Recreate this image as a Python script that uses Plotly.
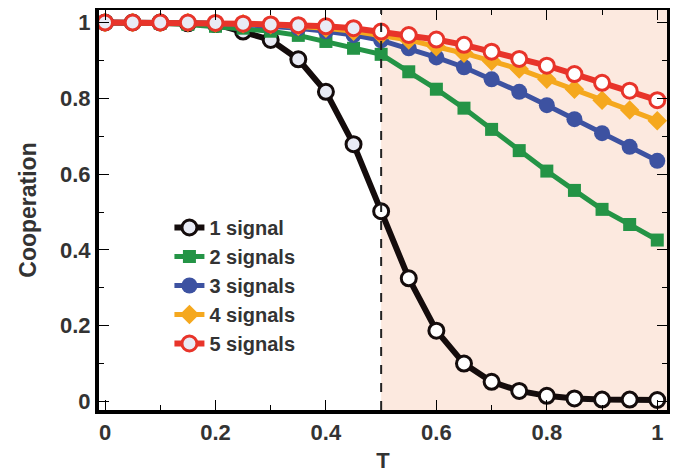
import plotly.graph_objects as go

T = [0.0, 0.05, 0.1, 0.15, 0.2, 0.25, 0.3, 0.35, 0.4, 0.45, 0.5,
     0.55, 0.6, 0.65, 0.7, 0.75, 0.8, 0.85, 0.9, 0.95, 1.0]

signal1 = [1.0, 1.0, 1.0, 0.998, 0.996, 0.976, 0.954, 0.903, 0.817, 0.679, 0.502,
           0.325, 0.187, 0.100, 0.052, 0.028, 0.015, 0.008, 0.005, 0.005, 0.004]
signal2 = [1.0, 1.0, 0.998, 0.995, 0.990, 0.985, 0.977, 0.966, 0.950, 0.932, 0.916,
           0.870, 0.824, 0.774, 0.718, 0.662, 0.608, 0.557, 0.507, 0.467, 0.426]
signal3 = [1.0, 1.0, 1.0, 0.999, 0.998, 0.995, 0.991, 0.985, 0.977, 0.967, 0.953,
           0.932, 0.908, 0.882, 0.850, 0.817, 0.782, 0.745, 0.708, 0.672, 0.635]
signal4 = [1.0, 1.0, 1.0, 1.0, 0.999, 0.997, 0.994, 0.990, 0.985, 0.977, 0.967,
           0.954, 0.936, 0.919, 0.898, 0.877, 0.850, 0.824, 0.795, 0.769, 0.741]
signal5 = [1.0, 1.0, 1.0, 1.0, 0.999, 0.997, 0.995, 0.993, 0.990, 0.985, 0.976,
           0.967, 0.955, 0.941, 0.923, 0.904, 0.886, 0.864, 0.841, 0.820, 0.795]

names = ["1 signal", "2 signals", "3 signals", "4 signals", "5 signals"]
threshold = 0.5

FONT = "Liberation Sans, Arial, sans-serif"
open_fill = ["#e9ebf5" if t < threshold else "#ffffff" for t in T]

fig = go.Figure()

fig.add_trace(go.Scatter(
    x=T, y=signal1, name=names[0], mode="lines+markers", cliponaxis=False,
    line=dict(color="#140c0c", width=6),
    marker=dict(symbol="circle", size=15, color=open_fill,
                line=dict(color="#140c0c", width=3))))
fig.add_trace(go.Scatter(
    x=T, y=signal2, name=names[1], mode="lines+markers", cliponaxis=False,
    line=dict(color="#249446", width=5),
    marker=dict(symbol="square", size=13, color="#249446")))
fig.add_trace(go.Scatter(
    x=T, y=signal3, name=names[2], mode="lines+markers", cliponaxis=False,
    line=dict(color="#3d52a1", width=5),
    marker=dict(symbol="circle", size=16, color="#3d52a1")))
fig.add_trace(go.Scatter(
    x=T, y=signal4, name=names[3], mode="lines+markers", cliponaxis=False,
    line=dict(color="#f5a81e", width=5),
    marker=dict(symbol="diamond", size=15, color="#f5a81e")))
fig.add_trace(go.Scatter(
    x=T, y=signal5, name=names[4], mode="lines+markers", cliponaxis=False,
    line=dict(color="#e8342a", width=6),
    marker=dict(symbol="circle", size=15, color=open_fill,
                line=dict(color="#e8342a", width=3))))

xr = [-0.0109, 1.0176]
yr = [-0.0224, 1.033]

fig.add_shape(type="rect", xref="x", yref="paper", x0=threshold, x1=xr[1], y0=0, y1=1,
              fillcolor="#fce9df", line=dict(width=0), layer="below")
fig.add_shape(type="line", xref="x", yref="paper", x0=threshold, x1=threshold, y0=0, y1=1,
              line=dict(color="#222222", width=2, dash="dash"), layer="above")

axis_common = dict(
    showgrid=False, zeroline=False, showline=True, linewidth=4, linecolor="black",
    mirror="ticks", ticks="inside", ticklen=10, tickwidth=1.3, tickcolor="black",
    tickfont=dict(family=FONT, size=22, color="#333333", weight="bold"),
    dtick=0.2, tick0=0, automargin=False,
    minor=dict(dtick=0.1, ticks="inside", ticklen=5, tickwidth=1.3, tickcolor="black"),
)

fig.update_xaxes(range=xr, title=dict(text="T", standoff=11,
                 font=dict(family=FONT, size=22, color="#333333", weight="bold")),
                 **axis_common)
fig.update_yaxes(range=yr, title=dict(text="Cooperation", standoff=18,
                 font=dict(family=FONT, size=23, color="#333333", weight="bold")),
                 **axis_common)

# page body adds an 8px offset, so the figure is sized to fit the 678x473 window
fig.update_layout(
    width=670, height=465,
    margin=dict(l=91, r=11, t=2, b=63),
    plot_bgcolor="white", paper_bgcolor="white",
    legend=dict(x=0.124, y=0.505, xanchor="left", yanchor="top",
                bgcolor="rgba(0,0,0,0)",
                font=dict(family=FONT, size=20, color="#333333", weight="bold"),
                tracegroupgap=0),
    showlegend=True,
)

fig.write_html("out.html")
